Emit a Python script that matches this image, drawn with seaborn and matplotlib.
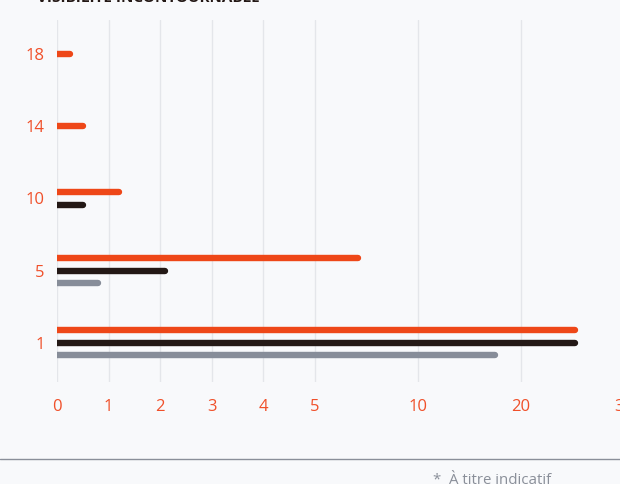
import numpy as np
import pandas as pd
import matplotlib
matplotlib.use("Agg")
import matplotlib.pyplot as plt
import seaborn as sns

# ---- data ----
categories = ["1", "5", "10", "14", "18"]
series_names = ["Série A", "Série B", "Série C"]
orange_values = [25.2, 7.1, 1.2, 0.5, 0.25]
black_values = [25.2, 2.1, 0.5, None, None]
grey_values = [17.5, 0.8, None, None, None]
x_ticks = [0, 1, 2, 3, 4, 5, 10, 20, 30]
title_text = "VISIBILITÉ INCONTOURNABLE"
footnote_text = "*  À titre indicatif"

colors = {"Série A": "#EE4718", "Série B": "#231815", "Série C": "#878D99"}
tick_color = "#F0502A"
bg = "#F8F9FB"

# long-form table
rows = []
all_series = [orange_values, black_values, grey_values]
step = 0.173
for i, cat in enumerate(categories):
    present = [(s, vals[i]) for s, vals in zip(series_names, all_series) if vals[i] is not None]
    k = len(present)
    for j, (s, v) in enumerate(present):
        rows.append({"category": cat, "series": s, "value": v,
                     "ypos": i + ((k - 1) / 2 - j) * step})
df = pd.DataFrame(rows)

sns.set_theme(style="white")
plt.rcParams["font.family"] = ["Open Sans", "DejaVu Sans"]

fig = plt.figure(figsize=(6.2, 4.84), dpi=100, facecolor=bg)
ax = fig.add_axes([57 / 620, 1 - 382 / 484, (624 - 57) / 620, (382 - 20) / 484])
ax.set_facecolor(bg)

sns.barplot(data=df, x="value", y="ypos", hue="series", orient="h",
            native_scale=True, dodge=False, palette=colors, legend=False,
            hue_order=series_names, saturation=1, ax=ax)

# piecewise-linear x scale
src = [0, 5, 10, 20, 30]
dst = [0, 5, 7, 9, 11]
fwd = lambda v: np.interp(v, src, dst)
inv = lambda p: np.interp(p, dst, src)
ax.set_xscale("function", functions=(fwd, inv))

# replace rectangles with round-capped bars
for p in list(ax.patches):
    x0 = p.get_x()
    w = p.get_width()
    yc = p.get_y() + p.get_height() / 2
    col = p.get_facecolor()
    p.set_visible(False)
    ax.plot([x0, x0 + w], [yc, yc], color=col, lw=4.6,
            solid_capstyle="round", zorder=3)

ax.set_xlim(0, 30)
ax.set_ylim(-0.54, 4.47)
ax.set_xticks(x_ticks)
ax.set_xticklabels([str(t) for t in x_ticks])
ax.set_yticks(range(len(categories)))
ax.set_yticklabels(categories)
ax.set_xlabel("")
ax.set_ylabel("")
ax.tick_params(axis="x", colors=tick_color, labelsize=12, length=0, pad=12)
ax.tick_params(axis="y", colors=tick_color, labelsize=12, length=0, pad=9)
ax.grid(axis="x", color="#E4E6EA", lw=1)
ax.grid(axis="y", visible=False)
ax.set_axisbelow(True)
for s in ax.spines.values():
    s.set_visible(False)

fig.text(37 / 620, 1 - 2.5 / 484, title_text, fontsize=11, fontweight="bold",
         color="#231815", va="baseline", ha="left")
fig.add_artist(plt.Line2D([0, 1], [1 - 459 / 484, 1 - 459 / 484],
                          transform=fig.transFigure, color="#8A8F99", lw=1))
fig.text(433 / 620, 1 - 484.5 / 484, footnote_text, fontsize=10.8,
         color="#8A8F99", va="baseline", ha="left")

fig.savefig("out.png", dpi=100, facecolor=bg)
